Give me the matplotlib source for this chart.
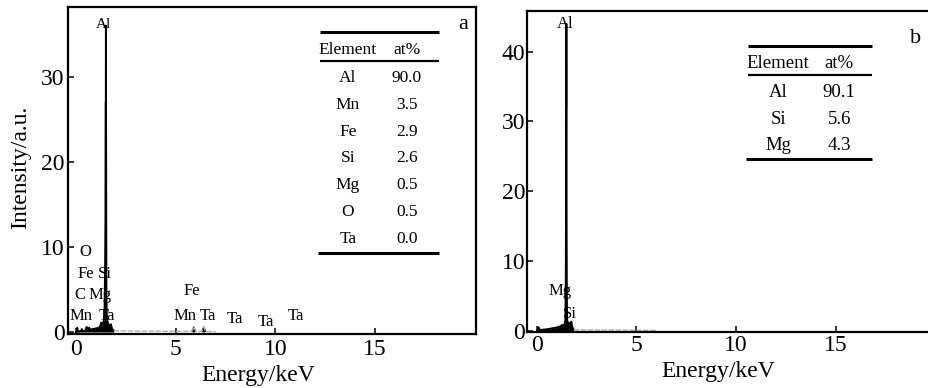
import matplotlib
matplotlib.use('Agg')
import matplotlib.pyplot as plt

plt.rcParams['font.family'] = ['Liberation Serif', 'DejaVu Serif']

# Spectrum (a): energy in keV, intensity in a.u.
energy_a = [0.00, 0.05, 0.08, 0.12, 0.20, 0.26, 0.28, 0.30, 0.36, 0.45, 0.50, 0.52, 0.54,
            0.58, 0.63, 0.65, 0.68, 0.75, 0.85, 0.95, 1.05, 1.15, 1.22, 1.25, 1.28, 1.33,
            1.38, 1.42, 1.45, 1.465, 1.475, 1.485, 1.49, 1.495, 1.505, 1.515, 1.53, 1.56,
            1.60, 1.65, 1.70, 1.74, 1.78, 1.82, 1.88]
counts_a = [0.0, 0.5, 0.1, 0.05, 0.1, 0.2, 0.35, 0.15, 0.1, 0.15, 0.4, 0.6, 0.4,
            0.3, 0.45, 0.5, 0.35, 0.3, 0.35, 0.4, 0.45, 0.5, 0.8, 1.1, 0.8, 0.9,
            1.3, 2.0, 8.0, 13.0, 27.0, 27.0, 36.0, 27.0, 13.0, 4.0, 2.0, 1.3,
            1.0, 0.7, 0.8, 0.9, 0.5, 0.3, 0.2]
tail_energy_a = [1.88, 2.5, 3.0, 3.5, 4.0, 4.5, 5.0, 5.5, 5.8, 5.9, 6.0, 6.3, 6.4,
                 6.5, 6.6, 7.0]
tail_counts_a = [0.15, 0.12, 0.1, 0.1, 0.1, 0.08, 0.08, 0.08, 0.08, 0.6, 0.08, 0.08, 0.6,
                 0.08, 0.06, 0.05]

# Spectrum (b)
energy_b = [0.05, 0.10, 0.15, 0.30, 0.50, 0.70, 0.90, 1.05, 1.15, 1.22, 1.25, 1.28, 1.34,
            1.40, 1.44, 1.46, 1.47, 1.48, 1.485, 1.49, 1.495, 1.50, 1.51, 1.53, 1.56,
            1.62, 1.68, 1.72, 1.74, 1.76, 1.80, 1.86]
counts_b = [0.1, 0.5, 0.1, 0.15, 0.2, 0.3, 0.4, 0.5, 0.6, 0.7, 0.8, 0.7, 0.8,
            0.9, 1.5, 7.0, 15.0, 32.0, 32.0, 44.0, 32.0, 15.0, 5.0, 1.5, 1.2,
            1.1, 1.0, 1.2, 1.3, 0.9, 0.4, 0.2]
tail_energy_b = [1.86, 2.5, 3.0, 3.5, 4.0, 4.5, 5.0, 5.5, 6.0]
tail_counts_b = [0.15, 0.12, 0.1, 0.1, 0.1, 0.08, 0.08, 0.06, 0.05]

# Peak labels: (text, energy, intensity)
peaks_a = [('Al', 1.35, 36.2), ('O', 0.48, 9.4), ('Fe', 0.48, 6.8), ('Si', 1.43, 6.8),
           ('C', 0.18, 4.35), ('Mg', 1.18, 4.35), ('Mn', 0.26, 1.9), ('Ta', 1.52, 1.9),
           ('Fe', 5.82, 4.86), ('Mn', 5.45, 1.9), ('Ta', 6.62, 1.9), ('Ta', 7.96, 1.5),
           ('Ta', 9.5, 1.2), ('Ta', 11.03, 1.9)]
peaks_b = [('Al', 1.42, 44.0), ('Mg', 1.17, 5.7), ('Si', 1.67, 2.35)]

# Composition tables
elements_a = ['Al', 'Mn', 'Fe', 'Si', 'Mg', 'O', 'Ta']
at_pct_a = ['90.0', '3.5', '2.9', '2.6', '0.5', '0.5', '0.0']
elements_b = ['Al', 'Si', 'Mg']
at_pct_b = ['90.1', '5.6', '4.3']

fig = plt.figure(figsize=(9.29, 3.88), dpi=100)
ax1 = fig.add_axes([0.0735, 0.1384, 0.4385, 0.8436])
ax2 = fig.add_axes([0.5676, 0.1451, 0.4324, 0.8265])


def draw_spectrum(ax, e, c, te, tc):
    ax.fill_between(e, c, 0, color='black', lw=0)
    ax.plot(e, c, color='black', lw=1.4)
    ax.plot(te, tc, color='#b0b0b0', lw=1.0, ls=(0, (4, 1)))
    ax.fill_between(te, tc, 0.0, where=[v > 0.2 for v in tc], interpolate=True,
                    color='black', lw=0.8, edgecolor='black')


def draw_table(ax, names, vals, x_lines, y_top, y_head, y_headline, y_row0, step,
               x_name, x_val, fs):
    ax.plot(x_lines, [y_top, y_top], color='black', lw=2.2, transform=ax.transAxes,
            clip_on=False, solid_capstyle='butt')
    ax.text(x_name, y_head, 'Element', transform=ax.transAxes, ha='center',
            va='center', fontsize=fs)
    ax.text(x_val, y_head, 'at%', transform=ax.transAxes, ha='center', va='center',
            fontsize=fs)
    ax.plot(x_lines, [y_headline, y_headline], color='black', lw=1.6,
            transform=ax.transAxes, clip_on=False, solid_capstyle='butt')
    for i, (n, v) in enumerate(zip(names, vals)):
        y = y_row0 - i * step
        ax.text(x_name, y, n, transform=ax.transAxes, ha='center', va='center',
                fontsize=fs)
        ax.text(x_val, y, v, transform=ax.transAxes, ha='center', va='center',
                fontsize=fs)
    y_bot = y_row0 - (len(names) - 1) * step - step * 0.5
    ax.plot([x_lines[0] - 0.005, x_lines[1]], [y_bot, y_bot], color='black', lw=2.2,
            transform=ax.transAxes, clip_on=False, solid_capstyle='butt')


# Panel a
draw_spectrum(ax1, energy_a, counts_a, tail_energy_a, tail_counts_a)
for txt, x, y in peaks_a:
    ax1.text(x, y, txt, ha='center', va='center', fontsize=11 if txt == 'Al' else 12)
ax1.set_xlim(-0.4, 20.05)
ax1.set_ylim(-0.27, 38.2)
ax1.set_xticks([0, 5, 10, 15])
ax1.set_yticks([0, 10, 20, 30])
ax1.text(0.97, 0.945, 'a', transform=ax1.transAxes, ha='center', va='center',
         fontsize=16)
draw_table(ax1, elements_a, at_pct_a, [0.6178, 0.9099], 0.9227, 0.8686, 0.8359,
           0.7840, 0.0823, 0.6866, 0.8314, 12.5)
ax1.set_xlabel('Energy/keV', fontsize=17)
ax1.set_ylabel('Intensity/a.u.', fontsize=17)
ax1.xaxis.set_label_coords(0.466, -0.094)
ax1.yaxis.set_label_coords(-0.092, 0.511)

# Panel b
draw_spectrum(ax2, energy_b, counts_b, tail_energy_b, tail_counts_b)
for txt, x, y in peaks_b:
    ax2.text(x, y, txt, ha='center', va='center', fontsize=12)
ax2.set_xlim(-0.47, 19.68)
ax2.set_ylim(-0.14, 45.84)
ax2.set_xticks([0, 5, 10, 15])
ax2.set_yticks([0, 10, 20, 30, 40])
ax2.text(0.966, 0.915, 'b', transform=ax2.transAxes, ha='center', va='center',
         fontsize=16)
draw_table(ax2, elements_b, at_pct_b, [0.5502, 0.8573], 0.8909, 0.8369, 0.8014,
           0.7465, 0.0833, 0.6248, 0.7767, 13.5)
ax2.set_xlabel('Energy/keV', fontsize=17)
ax2.xaxis.set_label_coords(0.475, -0.09)
ax2.spines['right'].set_visible(False)

for ax, ypad, xpad in ((ax1, 2.5, 3.5), (ax2, 1.5, 2.5)):
    for s in ax.spines.values():
        s.set_linewidth(1.6)
    ax.tick_params(axis='both', direction='in', length=4, width=1.1, labelsize=17)
    ax.tick_params(axis='x', pad=xpad)
    ax.tick_params(axis='y', pad=ypad)

plt.savefig('out.png', dpi=100)
